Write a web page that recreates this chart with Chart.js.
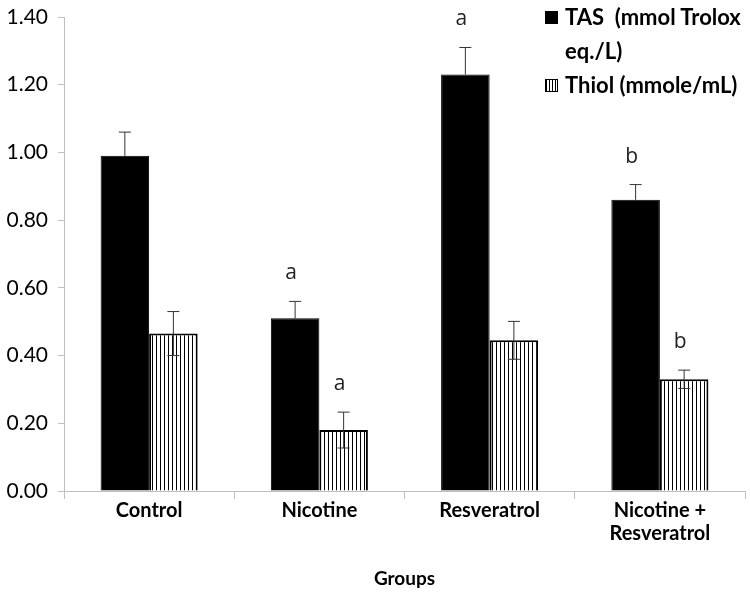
<!DOCTYPE html>
<html>
<head>
<meta charset="utf-8">
<script src="https://cdn.jsdelivr.net/npm/chart.js@4.4.1/dist/chart.umd.min.js"></script>
<style>
  html, body { margin: 0; padding: 0; background: #fff; }
  #wrap { position: relative; width: 750px; height: 594px; }
  #legend { position: absolute; left: 545px; top: 0px; font-family: Lato, sans-serif; font-weight: bold; font-size: 22px; color: #000; line-height: 34px; }
  .row { position: relative; padding-left: 20px; }
  .sw { position: absolute; left: 0; top: 11px; width: 11px; height: 11px; border: 1px solid #000; }
  .solid { background: #000; }
  .hatch { background: repeating-linear-gradient(90deg, #000 0 1px, #fff 1px 3px); }
</style>
</head>
<body>
<div id="wrap">
  <canvas id="myChart" width="750" height="594"></canvas>
  <div id="legend">
    <div class="row"><span class="sw solid"></span>TAS&nbsp; (mmol Trolox<br>eq./L)</div>
    <div class="row"><span class="sw hatch"></span>Thiol (mmole/mL)</div>
  </div>
</div>
<script>
const groups = ['Control', 'Nicotine', 'Resveratrol', ['Nicotine +', 'Resveratrol']];
const tasValues = [0.99, 0.51, 1.23, 0.86];
const tasErrors = [0.07, 0.05, 0.08, 0.045];
const tasLetters = ['', 'a', 'a', 'b'];
const thiolValues = [0.465, 0.18, 0.445, 0.33];
const thiolErrors = [0.065, 0.053, 0.056, 0.027];
const thiolLetters = ['', 'a', '', 'b'];

// vertical hatch fill for the thiol bars
function makeHatch() {
  const c = document.createElement('canvas');
  c.width = 4; c.height = 4;
  const g = c.getContext('2d');
  g.fillStyle = '#fff';
  g.fillRect(0, 0, 4, 4);
  g.fillStyle = '#000';
  g.fillRect(0, 0, 1, 4);
  return g.createPattern(c, 'repeat');
}

const errorBars = {
  id: 'errorBars',
  afterDatasetsDraw(chart) {
    const ctx = chart.ctx;
    const y = chart.scales.y;
    const sets = [[tasErrors, tasLetters], [thiolErrors, thiolLetters]];
    ctx.save();
    sets.forEach(([errs, letters], di) => {
      const meta = chart.getDatasetMeta(di);
      meta.data.forEach((bar, i) => {
        const v = chart.data.datasets[di].data[i];
        const top = y.getPixelForValue(v + errs[i]);
        const low = y.getPixelForValue(v - errs[i]);
        ctx.strokeStyle = '#333';
        ctx.lineWidth = 1;
        ctx.beginPath();
        ctx.moveTo(bar.x, top); ctx.lineTo(bar.x, di === 1 ? low : bar.y);
        ctx.moveTo(bar.x - 6, top); ctx.lineTo(bar.x + 6, top);
        if (di === 1) { ctx.moveTo(bar.x - 6, low); ctx.lineTo(bar.x + 6, low); }
        ctx.stroke();
        if (letters[i]) {
          ctx.fillStyle = '#222';
          ctx.font = '21px "Open Sans", sans-serif';
          ctx.textAlign = 'center';
          ctx.textBaseline = 'alphabetic';
          ctx.fillText(letters[i], bar.x - 4, top - 22);
        }
      });
    });
    ctx.restore();
  }
};

const ctx = document.getElementById('myChart').getContext('2d');
new Chart(ctx, {
  type: 'bar',
  data: {
    labels: groups,
    datasets: [
      { label: 'TAS  (mmol Trolox eq./L)', data: tasValues, backgroundColor: '#000', borderColor: '#000', borderWidth: 1 },
      { label: 'Thiol (mmole/mL)', data: thiolValues, backgroundColor: makeHatch(), borderColor: '#000', borderWidth: 2 }
    ]
  },
  options: {
    responsive: false,
    animation: false,
    layout: { padding: { top: 17, right: 5 } },
    categoryPercentage: 0.57,
    barPercentage: 1.0,
    plugins: { legend: { display: false }, tooltip: { enabled: false } },
    scales: {
      x: {
        grid: { offset: true, drawOnChartArea: false, color: '#bfbfbf', tickLength: 8 },
        border: { color: '#bfbfbf' },
        ticks: { color: '#000', font: { family: 'Lato', size: 20, weight: 'bold', lineHeight: 1.15 }, padding: 0 },
        title: { display: true, text: 'Groups', color: '#000', font: { family: 'Lato', size: 19, weight: 'bold' }, padding: { top: 8 } },
        afterFit(s) { s.height = 103; }
      },
      y: {
        min: 0, max: 1.4,
        grid: { drawOnChartArea: false, color: '#bfbfbf', tickLength: 6 },
        border: { color: '#bfbfbf' },
        ticks: { stepSize: 0.2, color: '#000', font: { family: 'Lato', size: 21 }, padding: 10, callback: v => v.toFixed(2) },
        afterFit(s) { s.width = 64; s.paddingTop = 0; s.paddingBottom = 0; }
      }
    }
  },
  plugins: [errorBars]
});
</script>
</body>
</html>
